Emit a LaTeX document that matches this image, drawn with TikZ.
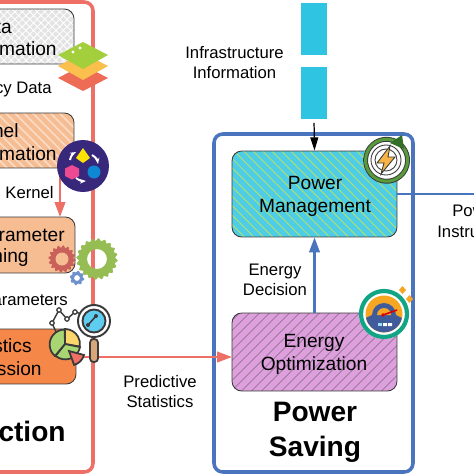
\documentclass[tikz,border=0pt]{standalone}
\usepackage{fontspec}
\setmainfont{Liberation Sans}
\usetikzlibrary{arrows.meta,patterns.meta}

\definecolor{framered}{HTML}{EE6F65}
\definecolor{frameblue}{HTML}{4A75BE}
\definecolor{barcyan}{HTML}{2FC4E2}
\definecolor{outline}{HTML}{3A3A3A}
\definecolor{peach}{HTML}{F6BC92}
\definecolor{statorange}{HTML}{F58748}
\definecolor{hatchgreen}{HTML}{B5E06A}
\definecolor{optpurple}{HTML}{DDA0DD}
\definecolor{layerred}{HTML}{EE6B55}
\definecolor{layeryellow}{HTML}{FBBF4E}
\definecolor{layergreen}{HTML}{A3CF3C}
\definecolor{kernelpurple}{HTML}{38287C}
\definecolor{hexpink}{HTML}{EE4A92}
\definecolor{gearred}{HTML}{C9605A}
\definecolor{gearface}{HTML}{F6BC92}
\definecolor{geargreen}{HTML}{96BC54}
\definecolor{geardark}{HTML}{3F8A2E}
\definecolor{lensblue}{HTML}{5FCDF0}
\definecolor{handletan}{HTML}{D9A679}
\definecolor{pieyellow}{HTML}{FBD66B}
\definecolor{piegreen}{HTML}{A8D672}
\definecolor{gaugeorange}{HTML}{F6A623}
\definecolor{gaugeteal}{HTML}{12A585}
\definecolor{gaugeblue}{HTML}{3F5B9B}

\tikzset{
  frame/.style={line width=2pt, rounded corners=5pt},
  procbox/.style={draw=outline, line width=0.5pt, rounded corners=5.5pt, inner sep=0pt},
  infotext/.style={font=\fontsize{9.5}{11.4}\selectfont, align=center, inner sep=0pt},
  boxtext/.style={font=\fontsize{10.9}{13}\selectfont, align=center, inner sep=0pt},
  titletext/.style={font=\fontsize{16}{20}\selectfont\bfseries, align=center, inner sep=0pt},
  redarrow/.style={framered, line width=1.2pt, -{Triangle[length=8.5pt,width=6pt]}},
  bluearrow/.style={frameblue, line width=1.2pt, -{Triangle[length=8.5pt,width=6pt]}},
  iconline/.style={draw=outline, line width=0.7pt},
}

\begin{document}
\begin{tikzpicture}[x=0.02cm, y=-0.02cm]

  \clip (0, 0) rectangle (474, 474);
  \fill[white] (0, 0) rectangle (474, 474);

  % outer frames
  \draw[frame, framered] (-40, 2) rectangle (93, 472);
  \draw[frame, frameblue] (214, 134) rectangle (413, 472);

  % left column, running off the page edge
  \node[procbox, minimum width=2.28cm, minimum height=1.10cm,
        preaction={fill=black!11},
        preaction={pattern={Lines[angle=-45,distance=3pt,line width=0.5pt]}, pattern color=white},
        pattern={Lines[angle=45,distance=3pt,line width=0.5pt]}, pattern color=white]
    (databox) at (17, 36.5) {};
  \node[procbox, minimum width=2.28cm, minimum height=1.10cm,
        preaction={fill=peach},
        pattern={Lines[angle=-45,distance=3.6pt,line width=1pt]}, pattern color=peach!55!white]
    (kernelbox) at (17, 140.5) {};
  \node[procbox, fill=peach, minimum width=2.30cm, minimum height=1.12cm]
    (tuningbox) at (17.5, 245) {};
  \node[procbox, fill=statorange, minimum width=2.32cm, minimum height=1.10cm]
    (statsbox) at (18, 356.5) {};

  \node[boxtext, anchor=east] (datatop) at (12, 27) {ta};
  \node[boxtext, anchor=east] (databot) at (57, 49) {mation};
  \node[infotext, anchor=east] (legacy) at (52, 89) {cy Data};
  \node[boxtext, anchor=east] (kerneltop) at (19, 131) {nel};
  \node[boxtext, anchor=east] (kernelbot) at (57, 154) {mation};
  \node[infotext, anchor=east] (kernellabel) at (54, 193) {Kernel};
  \node[boxtext, anchor=east] (tuningtop) at (65, 235) {rameter};
  \node[boxtext, anchor=east] (tuningbot) at (29, 258) {ning};
  \node[infotext, anchor=east] (paramlabel) at (68, 300) {arameters};
  \node[boxtext, anchor=east] (statstop) at (32, 346) {stics};
  \node[boxtext, anchor=east] (statsbot) at (42, 369) {ssion};
  \node[titletext, anchor=east] (predtitle) at (66, 431) {ction};

  % right column
  \node[fill=barcyan, minimum width=0.52cm, minimum height=1.04cm, inner sep=0pt]
    (infobara) at (314, 29) {};
  \node[fill=barcyan, minimum width=0.52cm, minimum height=1.04cm, inner sep=0pt]
    (infobarb) at (314, 93) {};
  \node[infotext] (infolabel) at (234.5, 63) {Infrastructure\\Information};

  \node[procbox, minimum width=3.30cm, minimum height=1.72cm,
        preaction={fill=barcyan!85!white},
        pattern={Lines[angle=-45,distance=3.8pt,line width=0.5pt]}, pattern color=hatchgreen]
    (powermgmt) at (314.5, 194) {};
  \node[boxtext] (powermgmttext) at (315, 196) {Power\\Management};

  \node[procbox, minimum width=3.30cm, minimum height=1.56cm,
        preaction={fill=optpurple},
        pattern={Lines[angle=45,distance=4pt,line width=0.3pt]}, pattern color=outline!80!optpurple]
    (energyopt) at (314.5, 352) {};
  \node[boxtext] (energyopttext) at (314, 354) {Energy\\Optimization};

  \node[infotext] (decision) at (275, 280) {Energy\\Decision};
  \node[infotext] (predictive) at (160, 392) {Predictive\\Statistics};
  \node[titletext] (savingtitle) at (315, 432) {Power\\Saving};

  \node[infotext, anchor=west] (powlabel) at (452, 211) {Pow};
  \node[infotext, anchor=west] (instrlabel) at (437, 232) {Instru};

  % connectors
  \coordinate (kernelout) at (60, 168);
  \coordinate (tuningin) at (60, 217);
  \coordinate (statsout) at (76, 357);
  \coordinate (optin) at (232, 357);
  \coordinate (powerout) at (480, 194);
  \draw[redarrow] (kernelout) -- (tuningin);
  \draw[redarrow] (statsout) -- (optin);
  \draw[bluearrow] (energyopt.north) -- (powermgmt.south);
  \draw[frameblue, line width=1.2pt] (powermgmt.east) -- (powerout);
  \draw[line width=0.7pt, -{Triangle[length=7.5pt,width=4.5pt]}, shorten <=2pt]
    (infobarb.south) -- (powermgmt.north);

  % layers icon
  \fill[layerred] (58, 78) -- (83, 65) -- (108, 78) -- (83, 91) -- cycle;
  \fill[layeryellow] (58, 66) -- (83, 53) -- (108, 66) -- (83, 80) -- cycle;
  \fill[layergreen] (58, 55) -- (83, 42) -- (108, 55) -- (83, 69) -- cycle;
  \fill[white] (73, 52) circle (1.6) (80, 48) circle (1.6);

  % kernel icon
  \fill[kernelpurple] (83, 166) circle (26);
  \fill[yellow!85!orange] (83, 148) -- (90, 158) -- (83, 163) -- (76, 158) -- cycle;
  \fill[hexpink] (72, 165) -- (79, 168.5) -- (79, 176) -- (72, 179.5) -- (65, 176) -- (65, 168.5) -- cycle;
  \fill[cyan!70!blue] (94, 172) circle (6.5);
  \draw[white, line width=1.1pt, -{Stealth[length=3.5pt]}] (70, 160) to[bend left=25] (76, 152);
  \draw[white, line width=1.1pt, -{Stealth[length=3.5pt]}] (92, 155) to[bend left=25] (98, 164);
  \draw[white, line width=1.1pt, -{Stealth[length=3.5pt]}] (76, 178) to[bend right=20] (86, 181);

  % gear icons
  \begin{scope}[shift={(62, 259)}]
    \fill[gearred] plot[domain=0:360, samples=145] (\x:{12.5+1.2*sin(16*\x)}) -- cycle;
    \fill[gearface] (0, 0) circle (6.5);
  \end{scope}
  \begin{scope}[shift={(97, 259)}]
    \fill[geargreen, even odd rule] plot[domain=0:360, samples=181] (\x:{19.5+1.2*sin(20*\x)}) -- cycle (0, 0) circle (10);
  \end{scope}
  \begin{scope}[shift={(77, 278)}]
    \fill[frameblue!80!white, even odd rule] plot[domain=0:360, samples=97] (\x:{6.5+0.8*sin(8*\x)}) -- cycle (0, 0) circle (3);
  \end{scope}

  % statistics icon
  \draw[line width=0.8pt, outline] (57, 334) -- (52, 323) -- (59, 310) -- (67, 319) -- (75, 312) -- (82, 314);
  \foreach \px/\py in {52/323, 59/310, 67/319, 75/312}
    \filldraw[fill=white, draw=outline, line width=0.7pt] (\px, \py) circle (2.2);
  \fill[white] (94, 321) circle (16);
  \filldraw[iconline, line width=1.1pt, fill=lensblue] (94, 321) circle (11.5);
  \draw[outline, line width=1.1pt] (94, 321) circle (16);
  \draw[outline, line width=0.9pt] (88, 325) -- (96, 316);
  \fill[outline] (88, 325) circle (2) (96, 316) circle (2);
  \filldraw[iconline, line width=1pt, fill=handletan, rounded corners=2pt] (90, 339) rectangle (98, 362);
  \filldraw[iconline, line width=1pt, fill=pieyellow] (65, 344) -- (65, 329) arc (-90:10:15) -- cycle;
  \filldraw[iconline, line width=1pt, fill=piegreen] (65, 344) -- (80, 347) arc (10:130:15) -- cycle;
  \filldraw[iconline, line width=1pt, fill=piegreen] (65, 344) -- (55, 356) arc (130:270:15) -- cycle;
  \filldraw[iconline, line width=1pt, fill=framered] (69, 351) -- (84, 355) arc (15:75:14) -- cycle;

  % power icon
  \begin{scope}[shift={(386, 160)}]
    \fill[white] (0, 0) circle (23);
    \draw[outline, line width=2.8pt] (6, -20) arc (-75:285:21);
    \draw[geardark!80!hatchgreen, line width=1.7pt] (6, -20) arc (-75:285:21);
    \fill[geardark!80!black] (16, -25) -- (18, -11) -- (4, -17) -- cycle;
    \draw[outline, line width=0.5pt] (0, 0) circle (15);
    \draw[outline, line width=0.5pt] (0, 0) circle (11);
    \filldraw[iconline, line width=0.5pt, fill=gaugeorange!85!white]
      (4, -14) -- (-9, 3) -- (-2, 3) -- (-5, 14) -- (9, -3) -- (2, -3) -- cycle;
  \end{scope}

  % gauge icon
  \begin{scope}[shift={(384, 314)}]
    \fill[gaugeorange] (15, -24) -- (18.5, -28) -- (22, -24) -- (18.5, -20) -- cycle;
    \fill[gaugeorange] (22, -15) -- (25.5, -19) -- (29, -15) -- (25.5, -11) -- cycle;
    \fill[white] (0, 0) circle (25);
    \draw[gaugeteal, line width=2.4pt] (0, 0) circle (23);
    \fill[gaugeorange] (0, 0) circle (18.5);
    \fill[gaugeblue] (-12, 1) arc (180:360:12) -- (18, 4) arc (13:167:18.5) -- cycle;
    \fill[gaugeorange] (-7, 1) arc (180:360:7) -- cycle;
    \draw[red!85!black, line width=0.9pt] (-1, 1) -- (13, -4);
    \fill[red!85!black] (-1, 1) circle (1.8);
    \fill[cyan!40!white] (-6, 9) rectangle (-2, 12);
    \fill[white] (-1, 9) rectangle (3, 12) (4, 9) rectangle (8, 12);
  \end{scope}

\end{tikzpicture}
\end{document}
